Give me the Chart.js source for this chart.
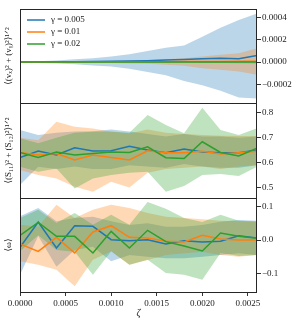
<!DOCTYPE html>
<html>
<head>
<meta charset="utf-8">
<script src="https://cdn.jsdelivr.net/npm/chart.js@4"></script>
<style>
html, body { margin: 0; padding: 0; background: #fff; }
#wrap { position: relative; width: 299px; height: 323px; }
#wrap canvas { position: absolute; left: 0; top: 0; }
</style>
</head>
<body>
<div id="wrap">
  <canvas id="velChart" width="299" height="323"></canvas>
  <canvas id="strChart" width="299" height="323"></canvas>
  <canvas id="vortChart" width="299" height="323"></canvas>
</div>
<script>
// zeta values along the x axis
const zeta = [0, 0.0002, 0.0004, 0.0006, 0.0008, 0.0010, 0.0012, 0.0014, 0.0016, 0.0018, 0.0020, 0.0022, 0.0024, 0.0026]
const gammaLabels = ['\u03b3 = 0.005', '\u03b3 = 0.01', '\u03b3 = 0.02']

// top panel: <(vx)^2 + (vy)^2>^1/2
const velBlue = [0, 0.000001, 0.000002, 0.000004, 0.000005, 0.000007, 0.000009, 0.000012, 0.000018, 0.000024, 0.00003, 0.000035, 0.00003, 0.00006]
const velBlueHi = [0.000003, 0.000008, 0.000015, 0.000025, 0.000035, 0.00005, 0.00007, 0.0001, 0.00013, 0.00015, 0.00023, 0.00031, 0.00038, 0.00044]
const velBlueLo = [-0.000003, -0.000008, -0.000012, -0.00002, -0.00003, -0.00004, -0.00006, -0.00009, -0.00012, -0.00017, -0.00021, -0.00026, -0.00032, -0.00033]
const velOrange = [0, 0, 0.000001, 0.000001, 0.000002, 0.000002, 0.000003, 0.000003, 0.000004, 0.000005, 0.000006, 0.000006, 0.000008, 0.000008]
const velOrangeHi = [0.000001, 0.000002, 0.000004, 0.000006, 0.000008, 0.00001, 0.000013, 0.000018, 0.000025, 0.000035, 0.00005, 0.000066, 0.00008, 0.000125]
const velOrangeLo = [-0.000001, -0.000002, -0.000003, -0.000005, -0.000007, -0.000009, -0.000012, -0.000016, -0.000024, -0.000034, -0.000055, -0.00007, -0.000085, -0.000115]
const velGreen = [0, 0, 0, 0.000001, 0, 0.000001, 0, 0.000001, 0, 0.000001, 0.000001, 0, 0.000001, 0]
const velGreenHi = [0.000001, 0.000001, 0.000002, 0.000002, 0.000003, 0.000003, 0.000004, 0.000005, 0.000006, 0.000007, 0.000008, 0.000009, 0.00001, 0.000012]
const velGreenLo = [-0.000001, -0.000001, -0.000002, -0.000002, -0.000003, -0.000003, -0.000004, -0.000005, -0.000006, -0.000007, -0.000008, -0.000009, -0.00001, -0.000012]

// middle panel: <(S11)^2 + (S12)^2>^1/2
const strBlue = [0.621, 0.647, 0.631, 0.660, 0.647, 0.648, 0.666, 0.651, 0.640, 0.655, 0.643, 0.640, 0.640, 0.651]
const strBlueHi = [0.731, 0.711, 0.720, 0.725, 0.726, 0.733, 0.725, 0.715, 0.705, 0.715, 0.705, 0.705, 0.700, 0.705]
const strBlueLo = [0.511, 0.584, 0.575, 0.585, 0.575, 0.575, 0.590, 0.585, 0.580, 0.595, 0.585, 0.580, 0.580, 0.590]
const strOrange = [0.641, 0.631, 0.637, 0.611, 0.631, 0.621, 0.611, 0.648, 0.640, 0.640, 0.646, 0.635, 0.640, 0.646]
const strOrangeHi = [0.700, 0.690, 0.764, 0.744, 0.737, 0.724, 0.717, 0.733, 0.720, 0.715, 0.711, 0.708, 0.707, 0.707]
const strOrangeLo = [0.571, 0.551, 0.537, 0.504, 0.484, 0.524, 0.501, 0.560, 0.575, 0.580, 0.585, 0.575, 0.585, 0.591]
const strGreen = [0.641, 0.621, 0.643, 0.631, 0.637, 0.643, 0.641, 0.664, 0.620, 0.617, 0.684, 0.641, 0.627, 0.658]
const strGreenHi = [0.698, 0.678, 0.700, 0.720, 0.724, 0.725, 0.720, 0.791, 0.751, 0.718, 0.820, 0.731, 0.711, 0.738]
const strGreenLo = [0.584, 0.564, 0.577, 0.497, 0.537, 0.551, 0.560, 0.564, 0.484, 0.507, 0.551, 0.555, 0.547, 0.584]

// bottom panel: <omega>
const vortBlue = [-0.022, 0.054, -0.024, 0.043, 0.041, 0.001, -0.002, 0.001, -0.012, -0.002, -0.006, -0.004, 0.013, 0.006]
const vortBlueHi = [0.071, 0.096, 0.056, 0.066, 0.070, 0.056, 0.045, 0.050, 0.040, 0.040, 0.045, 0.055, 0.060, 0.058]
const vortBlueLo = [-0.104, 0.012, -0.080, -0.030, -0.020, -0.064, -0.045, -0.050, -0.055, -0.055, -0.050, -0.045, -0.040, -0.045]
const vortOrange = [-0.012, -0.034, 0.008, -0.039, 0.024, 0.043, 0.008, 0.006, -0.004, -0.006, 0.014, 0.003, 0.0, 0.0]
const vortOrangeHi = [0.046, 0.040, 0.106, 0.066, 0.091, 0.106, 0.096, 0.081, 0.070, 0.066, 0.062, 0.058, 0.056, 0.054]
const vortOrangeLo = [-0.064, -0.074, -0.089, -0.139, -0.059, -0.034, -0.074, -0.060, -0.045, -0.040, -0.035, -0.045, -0.050, -0.045]
const vortGreen = [0.014, 0.053, 0.011, 0.011, -0.039, 0.026, -0.024, 0.029, -0.005, -0.018, -0.033, 0.021, 0.011, 0.005]
const vortGreenHi = [0.066, 0.091, 0.051, 0.081, 0.046, 0.076, 0.046, 0.114, 0.094, 0.066, 0.054, 0.076, 0.058, 0.056]
const vortGreenLo = [-0.034, 0.014, -0.030, -0.035, -0.104, -0.034, -0.074, -0.059, -0.099, -0.104, -0.119, -0.039, -0.048, -0.045]

const serif = "'Liberation Serif', 'DejaVu Serif', serif"
const ink = '#222'
const blue = '#1f77b4', orange = '#ff7f0e', green = '#2ca02c'
const blueFill = 'rgba(31,119,180,0.3)', orangeFill = 'rgba(255,127,14,0.3)', greenFill = 'rgba(44,160,44,0.3)'

Chart.defaults.font.family = serif
Chart.defaults.font.size = 9
Chart.defaults.color = ink

const pts = arr => arr.map((v, i) => ({x: zeta[i], y: v}))

// a shaded band is two datasets, the upper one filled down to the lower one
function band(hi, lo, color, order) {
    return [
        {label: '', data: pts(hi), borderWidth: 0, pointRadius: 0, backgroundColor: color, fill: '+1', order: order},
        {label: '', data: pts(lo), borderWidth: 0, pointRadius: 0, backgroundColor: color, fill: false, order: order}
    ]
}

function line(vals, label, color, order) {
    return {label: label, data: pts(vals), borderColor: color, borderWidth: 1.5, pointRadius: 0, fill: false, order: order}
}

// box round each plot area
const frame = {
    id: 'frame',
    afterDatasetsDraw(chart) {
        const {ctx, chartArea: a} = chart
        ctx.save()
        ctx.strokeStyle = '#262626'
        ctx.lineWidth = 1
        ctx.strokeRect(a.left + 0.5, a.top + 0.5, a.right - a.left - 1, a.bottom - a.top)
        ctx.restore()
    }
}

// legend drawn inside the top plot
const legendBox = {
    id: 'legendBox',
    afterDraw(chart, args, opts) {
        if (!opts.show) return
        const {ctx, chartArea: a} = chart
        ctx.save()
        ctx.font = '9px ' + serif
        ctx.textBaseline = 'middle'
        let y = a.top + 11
        chart.data.datasets.forEach(ds => {
            if (!ds.label) return
            ctx.strokeStyle = ds.borderColor
            ctx.lineWidth = ds.borderWidth
            ctx.beginPath()
            ctx.moveTo(a.left + 7, y)
            ctx.lineTo(a.left + 25, y)
            ctx.stroke()
            ctx.fillStyle = ink
            ctx.fillText(ds.label, a.left + 31, y)
            y += 12
        })
        ctx.restore()
    }
}

function tickText(decimals) {
    return v => (v < 0 ? '\u2212' : '') + Math.abs(v).toFixed(decimals)
}

function makePanel(id, datasets, yMin, yMax, step, decimals, title, padTop, padBottom, showX, showLegend) {
    return new Chart(document.getElementById(id).getContext('2d'), {
        type: 'line',
        data: {datasets: datasets},
        plugins: [frame, legendBox],
        options: {
            responsive: false,
            animation: false,
            layout: {padding: {top: padTop, bottom: padBottom, left: 0, right: 0}},
            plugins: {legend: {display: false}, tooltip: {enabled: false}, legendBox: {show: showLegend}},
            scales: {
                x: {
                    type: 'linear', min: 0, max: 0.0026, display: showX,
                    ticks: {stepSize: 0.0005, includeBounds: false, autoSkip: false, maxRotation: 0, padding: 2, callback: tickText(4)},
                    grid: {drawOnChartArea: false, tickLength: 4, color: '#333'},
                    border: {display: false},
                    title: {display: true, text: '\u03b6', font: {size: 10, style: 'italic'}, padding: {top: 0, bottom: 4}},
                    afterFit: s => { s.height = showX ? 31 : 0; s.paddingLeft = 0; s.paddingRight = 0 }
                },
                y: {
                    position: 'right', min: yMin, max: yMax,
                    ticks: {stepSize: step, includeBounds: false, padding: 1, callback: tickText(decimals)},
                    grid: {drawOnChartArea: false, tickLength: 4, color: '#333'},
                    border: {display: false},
                    afterFit: s => { s.width = 42; s.paddingTop = 0; s.paddingBottom = 0 }
                },
                yl: {
                    position: 'left',
                    ticks: {display: false},
                    grid: {display: false},
                    border: {display: false},
                    title: {display: true, text: title, font: {size: 9}, padding: {top: 3, bottom: 0}},
                    afterFit: s => { s.width = 20; s.paddingTop = 0; s.paddingBottom = 0 }
                }
            }
        }
    })
}

function panelData(b, bHi, bLo, o, oHi, oLo, g, gHi, gLo) {
    return [
        ...band(bHi, bLo, blueFill, 6),
        ...band(oHi, oLo, orangeFill, 5),
        ...band(gHi, gLo, greenFill, 4),
        line(b, gammaLabels[0], blue, 3),
        line(o, gammaLabels[1], orange, 2),
        line(g, gammaLabels[2], green, 1)
    ]
}

makePanel('velChart',
    panelData(velBlue, velBlueHi, velBlueLo, velOrange, velOrangeHi, velOrangeLo, velGreen, velGreenHi, velGreenLo),
    -0.00037, 0.00048, 0.0002, 4, '\u27e8(v\u2093)\u00b2 + (v\u1d67)\u00b2\u27e9\u00b9\u141f\u00b2', 9, 220, false, true)

makePanel('strChart',
    panelData(strBlue, strBlueHi, strBlueLo, strOrange, strOrangeHi, strOrangeLo, strGreen, strGreenHi, strGreenLo),
    0.459, 0.839, 0.1, 1, '\u27e8(S\u2081\u2081)\u00b2 + (S\u2081\u2082)\u00b2\u27e9\u00b9\u141f\u00b2', 103, 125, false, false)

makePanel('vortChart',
    panelData(vortBlue, vortBlueHi, vortBlueLo, vortOrange, vortOrangeHi, vortOrangeLo, vortGreen, vortGreenHi, vortGreenLo),
    -0.156, 0.126, 0.1, 1, '\u27e8\u03c9\u27e9', 198, 0, true, false)
</script>
</body>
</html>
